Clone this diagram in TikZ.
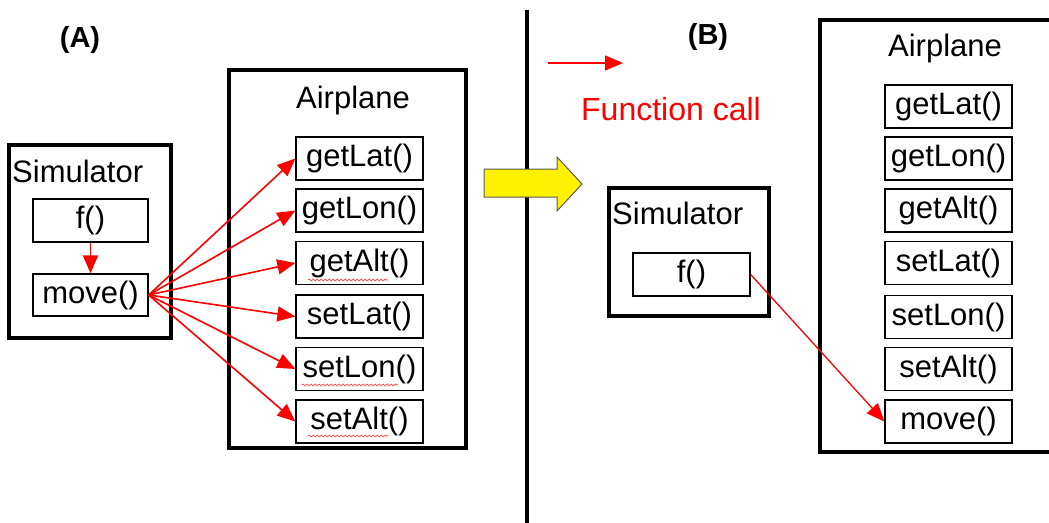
\documentclass[tikz,border=0pt]{standalone}
\usepackage{fontspec}
\setmainfont{Liberation Sans}
\usetikzlibrary{arrows.meta,decorations.pathmorphing}
\begin{document}
\begin{tikzpicture}[x=1pt,y=-1pt,
  big/.style={draw,line width=3.5pt,inner sep=0pt},
  meth/.style={draw,line width=1.3pt,inner sep=0pt,minimum width=127pt,minimum height=43pt,
    font=\fontsize{31}{36}\selectfont,text height=22.6pt,text depth=6.5pt},
  call/.style={draw=red,line width=1.6pt,-{Triangle[length=18pt,width=15pt]}},
  lbl/.style={font=\fontsize{31}{36}\selectfont,inner sep=0pt,anchor=base},
  squig/.style={draw=red!85,line width=0.6pt,decorate,decoration={snake,amplitude=1pt,segment length=4pt}}
]
\useasboundingbox (0,0) rectangle (1049,522);
\clip (0,0) rectangle (1049,522);

% ---------- (A) ----------
\node[lbl,font=\fontsize{29}{34}\selectfont\bfseries] (labA) at (80,47) {(A)};

\node[big,minimum width=237pt,minimum height=378pt] (airA) at (347.5,259) {};
\node[lbl] (airAt) at (353,108) {Airplane};

\node[big,minimum width=162pt,minimum height=193pt] (simA) at (90,241.5) {};
\node[lbl,anchor=base west] (simAt) at (12,182) {Simulator};
\node[meth,minimum width=115pt] (fA) at (90.5,220.5) {f()};
\node[meth,minimum width=115pt,minimum height=42pt] (moveA) at (90.5,295) {move()};

\node[meth] (gLatA) at (359.5,158.5) {getLat()};
\node[meth] (gLonA) at (359.5,210.5) {getLon()};
\node[meth] (gAltA) at (359.5,263) {getAlt()};
\node[meth] (sLatA) at (359.5,316.5) {setLat()};
\node[meth] (sLonA) at (359.5,369) {setLon()};
\node[meth] (sAltA) at (359.5,421.5) {setAlt()};

\draw[call] (fA) -- (moveA);
\foreach \m in {gLatA,gLonA,gAltA,sLatA,sLonA,sAltA}
  \draw[call] (moveA.east) -- (\m.west);

% spelling squiggles
\coordinate (q1a) at (308,280); \coordinate (q1b) at (388,280);
\coordinate (q2a) at (302,385); \coordinate (q2b) at (398,385);
\coordinate (q3a) at (308,436); \coordinate (q3b) at (388,436);
\draw[squig] (q1a) -- (q1b);
\draw[squig] (q2a) -- (q2b);
\draw[squig] (q3a) -- (q3b);

% ---------- divider and transition arrow ----------
\coordinate (vt) at (527,10);
\coordinate (vb) at (527,530);
\draw[line width=4.5pt] (vt) -- (vb);
\draw[fill=yellow,draw=black!65,line width=1pt,line join=miter]
  (484,169) -- (557,169) -- (557,157) -- (582,184) -- (557,211) -- (557,197) -- (484,197) -- cycle;

% ---------- (B) ----------
\node[lbl,font=\fontsize{29}{34}\selectfont\bfseries] (labB) at (708,44) {(B)};

\coordinate (lg1) at (548,63);
\coordinate (lg2) at (623,63);
\draw[call,line width=1.4pt] (lg1) -- (lg2);
\node[lbl,text=red,font=\fontsize{32}{38}\selectfont] (fc) at (671,120) {Function call};

\node[big,minimum width=250pt,minimum height=432pt] (airB) at (945,236) {};
\node[lbl] (airBt) at (945,56) {Airplane};

\node[meth] (gLatB) at (948.5,106.5) {getLat()};
\node[meth] (gLonB) at (948.5,158.5) {getLon()};
\node[meth] (gAltB) at (948.5,210.5) {getAlt()};
\node[meth] (sLatB) at (948.5,263) {setLat()};
\node[meth] (sLonB) at (948.5,317) {setLon()};
\node[meth] (sAltB) at (948.5,369) {setAlt()};
\node[meth] (moveB) at (948.5,421.5) {move()};

\node[big,minimum width=160pt,minimum height=128pt] (simB) at (689,252) {};
\node[lbl,anchor=base west] (simBt) at (612,224) {Simulator};
\node[meth,minimum width=117pt] (fB) at (691.5,274.5) {f()};

\draw[call,line width=1.3pt] (fB.east) -- (moveB.west);
\end{tikzpicture}
\end{document}
